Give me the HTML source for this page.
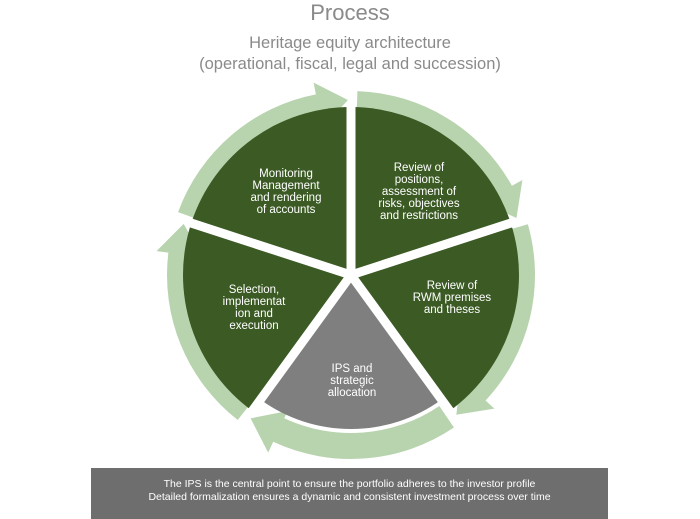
<!DOCTYPE html>
<html><head><meta charset="utf-8"><style>
html,body{margin:0;padding:0;background:#fff;width:700px;height:519px;overflow:hidden;font-family:"Liberation Sans",sans-serif;}
.t{position:absolute;left:0;width:700px;text-align:center;color:#8a8a8a;}
.lab{position:absolute;color:#fff;font-size:11.5px;line-height:12px;text-align:center;transform:translateX(-50%);white-space:nowrap;}
.box{position:absolute;left:91px;top:468px;width:517px;height:51px;background:#6e6e6e;color:#fff;font-size:10.5px;line-height:13px;text-align:center;box-sizing:border-box;padding-top:10px;}
</style></head><body>
<div class="t" style="top:0;font-size:22px;line-height:26px;">Process</div>
<div class="t" style="top:33px;font-size:16.5px;line-height:21px;">Heritage equity architecture<br>(operational, fiscal, legal and succession)</div>
<svg id="s" width="700" height="519" style="position:absolute;left:0;top:0"></svg>
<div class="lab" style="left:286px;top:168px">Monitoring<br>Management<br>and rendering<br>of accounts</div>
<div class="lab" style="left:419px;top:162px">Review of<br>positions,<br>assessment of<br>risks, objectives<br>and restrictions</div>
<div class="lab" style="left:452px;top:280px">Review of<br>RWM premises<br>and theses</div>
<div class="lab" style="left:254px;top:284px">Selection,<br>implementat<br>ion and<br>execution</div>
<div class="lab" style="left:352px;top:363px">IPS and<br>strategic<br>allocation</div>
<div class="box">The IPS is the central point to ensure the portfolio adheres to the investor profile<br>Detailed formalization ensures a dynamic and consistent investment process over time</div>
<script>
var s=document.getElementById('s'),cx=351,cy=275,NS='http://www.w3.org/2000/svg';
function P(r,a){a=a*Math.PI/180;return [cx+r*Math.cos(a),cy+r*Math.sin(a)];}
function add(d,f,st,sw){var p=document.createElementNS(NS,'path');p.setAttribute('d',d);p.setAttribute('fill',f);if(st){p.setAttribute('stroke',st);p.setAttribute('stroke-width',sw);}s.appendChild(p);}
var b=[-90,-18,54,126,198];
var ri=158,ro=184,ah1=150,ah2=196;
for(var i=0;i<5;i++){
 var a0=b[i]-72+2,a1=b[i]-11,tip=b[i]-1;
 var p1=P(ro,a0),p2=P(ro,a1),p3=P(ah2,a1),p4=P((ri+ro)/2+4,tip),p5=P(ah1,a1),p6=P(ri,a1),p7=P(ri,a0);
 var d='M'+p1+' A'+ro+' '+ro+' 0 0 1 '+p2+' L'+p3+' L'+p4+' L'+p5+' L'+p6+' A'+ri+' '+ri+' 0 0 0 '+p7+' Z';
 add(d,'#b8d4ae');
}
var Rs=[168,168,154,168,168],cols=['#3b5a24','#3b5a24','#7f7f7f','#3b5a24','#3b5a24'];
for(var i=0;i<5;i++){
 var R=Rs[i],a0=b[i],a1=b[(i+1)%5]+(i==4?360:0);
 var q1=P(R,a0),q2=P(R,a1);
 add('M'+cx+','+cy+' L'+q1+' A'+R+' '+R+' 0 0 1 '+q2+' Z',cols[i]);
}
for(var i=0;i<5;i++){var q=P(170,b[i]);add('M'+cx+','+cy+' L'+q,'none','#fff',9);}
</script>
</body></html>
